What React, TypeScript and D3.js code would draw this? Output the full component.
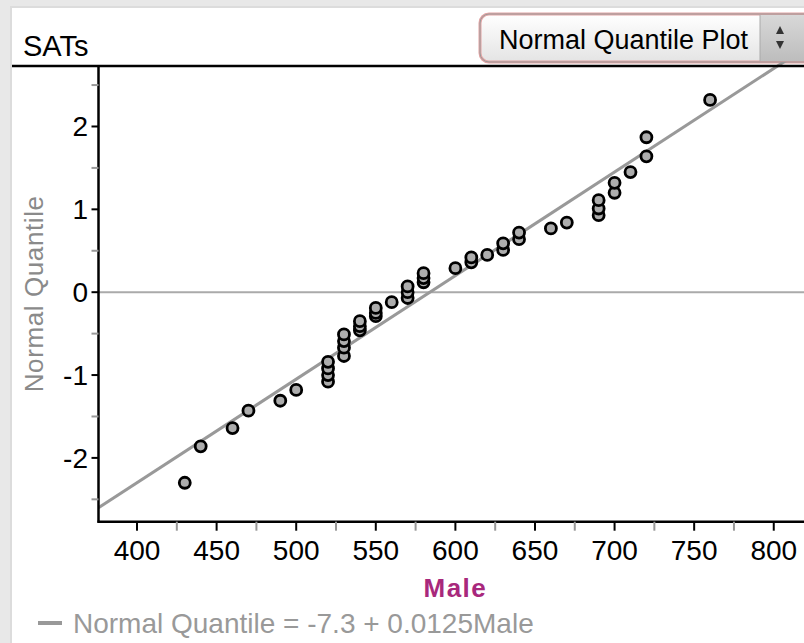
import React from "react";
import * as d3 from "d3";

// SAT scores (Male) and their normal quantiles
const maleScores = [430, 440, 460, 470, 490, 500, 520, 520, 520, 520, 530, 530, 530, 530, 540, 540, 540,
  550, 550, 550, 560, 570, 570, 570, 580, 580, 580, 600, 610, 610, 620, 630, 630, 640, 640, 660, 670,
  690, 690, 690, 700, 700, 710, 720, 720, 760];
const normalQuantiles = [-2.30, -1.86, -1.64, -1.43, -1.31, -1.18, -1.08, -1.00, -0.92, -0.84, -0.77, -0.67, -0.59, -0.51,
  -0.46, -0.41, -0.35, -0.29, -0.25, -0.19, -0.12, -0.07, 0.0, 0.07, 0.12, 0.17, 0.23, 0.29, 0.36, 0.42, 0.45,
  0.51, 0.59, 0.64, 0.72, 0.77, 0.84, 0.93, 1.01, 1.11, 1.20, 1.32, 1.45, 1.64, 1.87, 2.32];
const xMajorTicks = [400, 450, 500, 550, 600, 650, 700, 750, 800];
const xMinorTicks = [425, 475, 525, 575, 625, 675, 725, 775];
const yMajorTicks = [-2, -1, 0, 1, 2];
const yMinorTicks = [-2.5, -1.5, -0.5, 0.5, 1.5, 2.5];
const fitIntercept = -7.3;
const fitSlope = 0.0125;

const FONT = "'Liberation Sans', Arial, Helvetica, sans-serif";

const App = () => {
  const ref = React.useRef<SVGSVGElement>(null);
  const width = 804, height = 643;
  const plot = { left: 98.5, right: 804, top: 66, bottom: 521.7 };

  React.useEffect(() => {
    const svg = d3.select(ref.current);
    svg.selectAll("*").remove();

    const xScale = d3.scaleLinear([375.8, 819], [plot.left, plot.right]);
    const yScale = d3.scaleLinear([-2.77, 2.73], [plot.bottom, plot.top]);

    const defs = svg.append("defs");
    const grad = defs.append("linearGradient").attr("id", "btn").attr("x1", 0).attr("y1", 0).attr("x2", 0).attr("y2", 1);
    grad.append("stop").attr("offset", "0%").attr("stop-color", "#ffffff");
    grad.append("stop").attr("offset", "100%").attr("stop-color", "#e4e4e4");
    const spin = defs.append("linearGradient").attr("id", "spin").attr("x1", 0).attr("y1", 0).attr("x2", 0).attr("y2", 1);
    spin.append("stop").attr("offset", "0%").attr("stop-color", "#d8d8d8");
    spin.append("stop").attr("offset", "100%").attr("stop-color", "#bdbdbd");
    defs.append("clipPath").attr("id", "plotClip")
      .append("rect").attr("x", plot.left).attr("y", plot.top - 4)
      .attr("width", plot.right - plot.left).attr("height", plot.bottom - plot.top + 4);

    // background panel
    svg.append("rect").attr("width", width).attr("height", height).attr("fill", "#e8e8e8");
    svg.append("rect").attr("x", 10).attr("y", 6).attr("width", width).attr("height", height).attr("fill", "#dcdcdc");
    svg.append("rect").attr("x", 12).attr("y", 8).attr("width", width).attr("height", height).attr("fill", "#ffffff");

    // title
    svg.append("text").attr("x", 23).attr("y", 56).attr("font-family", FONT).attr("font-size", 29)
      .attr("fill", "#000").text("SATs");

    // dropdown
    svg.append("rect").attr("x", 480).attr("y", 14).attr("width", 340).attr("height", 48).attr("rx", 9)
      .attr("fill", "url(#btn)").attr("stroke", "#e2a4a4").attr("stroke-width", 3);
    svg.append("rect").attr("x", 480).attr("y", 14).attr("width", 340).attr("height", 48).attr("rx", 9)
      .attr("fill", "none").attr("stroke", "#9a9a9a").attr("stroke-width", 1);
    svg.append("rect").attr("x", 760).attr("y", 15).attr("width", 44).attr("height", 46).attr("fill", "url(#spin)");
    svg.append("line").attr("x1", 760).attr("x2", 760).attr("y1", 15).attr("y2", 61).attr("stroke", "#aaa");
    svg.append("path").attr("d", "M776,34 L784,34 L780,26 Z").attr("fill", "#333");
    svg.append("path").attr("d", "M776,41 L784,41 L780,49 Z").attr("fill", "#333");
    svg.append("text").attr("x", 499).attr("y", 49).attr("font-family", FONT).attr("font-size", 27)
      .attr("fill", "#000").text("Normal Quantile Plot");

    // zero reference line
    svg.append("line").attr("x1", plot.left).attr("x2", plot.right)
      .attr("y1", yScale(0)).attr("y2", yScale(0)).attr("stroke", "#aaaaaa").attr("stroke-width", 2);

    // fitted line
    const xd = xScale.domain();
    svg.append("line").attr("clip-path", "url(#plotClip)")
      .attr("x1", xScale(xd[0])).attr("y1", yScale(fitIntercept + fitSlope * xd[0]))
      .attr("x2", xScale(xd[1])).attr("y2", yScale(fitIntercept + fitSlope * xd[1]))
      .attr("stroke", "#999999").attr("stroke-width", 3);

    // points
    const data = maleScores.map((m, i) => ({ m, q: normalQuantiles[i] })).sort((a, b) => a.q - b.q);
    svg.append("g").selectAll("circle").data(data).join("circle")
      .attr("cx", d => xScale(d.m)).attr("cy", d => yScale(d.q)).attr("r", 5.5)
      .attr("fill", "#adadad").attr("stroke", "#000").attr("stroke-width", 2.8);

    // top frame line and axes
    svg.append("line").attr("x1", 12).attr("x2", width).attr("y1", plot.top).attr("y2", plot.top)
      .attr("stroke", "#000").attr("stroke-width", 2.5);
    svg.append("line").attr("x1", plot.left).attr("x2", plot.left).attr("y1", plot.top).attr("y2", plot.bottom + 1)
      .attr("stroke", "#000").attr("stroke-width", 2.5);
    svg.append("line").attr("x1", plot.left - 1).attr("x2", plot.right).attr("y1", plot.bottom).attr("y2", plot.bottom)
      .attr("stroke", "#000").attr("stroke-width", 2.5);

    // x ticks
    svg.append("g").selectAll("line").data(xMinorTicks).join("line")
      .attr("x1", d => xScale(d)).attr("x2", d => xScale(d)).attr("y1", plot.bottom).attr("y2", plot.bottom + 9)
      .attr("stroke", "#999").attr("stroke-width", 2);
    svg.append("g").selectAll("line").data(xMajorTicks).join("line")
      .attr("x1", d => xScale(d)).attr("x2", d => xScale(d)).attr("y1", plot.bottom).attr("y2", plot.bottom + 9)
      .attr("stroke", "#000").attr("stroke-width", 2);
    svg.append("g").selectAll("text").data(xMajorTicks).join("text")
      .attr("x", d => xScale(d)).attr("y", 560).attr("text-anchor", "middle")
      .attr("font-family", FONT).attr("font-size", 28).attr("fill", "#000").text(d => d);

    // y ticks
    svg.append("g").selectAll("line").data(yMinorTicks).join("line")
      .attr("x1", plot.left - 7).attr("x2", plot.left).attr("y1", d => yScale(d)).attr("y2", d => yScale(d))
      .attr("stroke", "#999").attr("stroke-width", 2);
    svg.append("g").selectAll("line").data(yMajorTicks).join("line")
      .attr("x1", plot.left - 7).attr("x2", plot.left).attr("y1", d => yScale(d)).attr("y2", d => yScale(d))
      .attr("stroke", "#000").attr("stroke-width", 2);
    svg.append("g").selectAll("text").data(yMajorTicks).join("text")
      .attr("x", 88).attr("y", d => yScale(d) + 10).attr("text-anchor", "end")
      .attr("font-family", FONT).attr("font-size", 28).attr("fill", "#000").text(d => d);

    // axis titles
    svg.append("text").attr("transform", `translate(43,${(plot.top + plot.bottom) / 2}) rotate(-90)`)
      .attr("text-anchor", "middle").attr("font-family", FONT).attr("font-size", 26).attr("fill", "#8a8a8a")
      .attr("letter-spacing", 0.6).text("Normal Quantile");
    svg.append("text").attr("x", xScale(600)).attr("y", 597).attr("text-anchor", "middle")
      .attr("font-family", FONT).attr("font-size", 26).attr("font-weight", "bold").attr("letter-spacing", 1.5)
      .attr("fill", "#a8287c").text("Male");

    // legend
    svg.append("line").attr("x1", 38).attr("x2", 62).attr("y1", 623).attr("y2", 623)
      .attr("stroke", "#999").attr("stroke-width", 4);
    svg.append("text").attr("x", 73).attr("y", 633).attr("font-family", FONT).attr("font-size", 28)
      .attr("fill", "#999").text(`Normal Quantile = ${fitIntercept} + ${fitSlope}Male`);
  }, []);

  return <svg ref={ref} width={width} height={height} style={{ position: "absolute", left: 0, top: 0 }} />;
};

export default App;
